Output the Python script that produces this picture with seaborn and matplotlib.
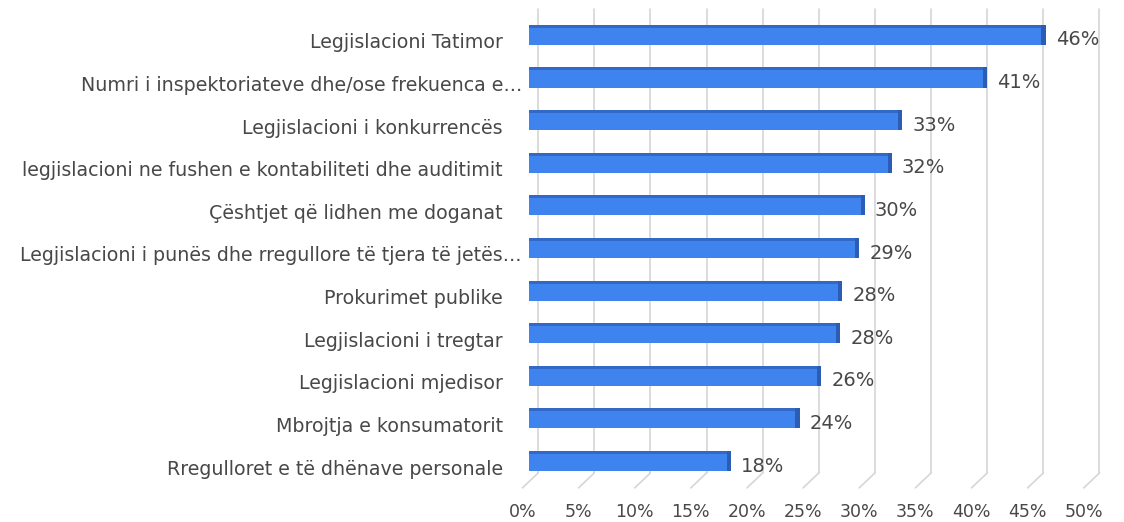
import matplotlib
matplotlib.use("Agg")
import matplotlib.pyplot as plt
import matplotlib.transforms as mtransforms
import seaborn as sns
import pandas as pd
import numpy as np

categories = [
    "Legjislacioni Tatimor",
    "Numri i inspektoriateve dhe/ose frekuenca e…",
    "Legjislacioni i konkurrencës",
    "legjislacioni ne fushen e kontabiliteti dhe auditimit",
    "Çështjet që lidhen me doganat",
    "Legjislacioni i punës dhe rregullore të tjera të jetës…",
    "Prokurimet publike",
    "Legjislacioni i tregtar",
    "Legjislacioni mjedisor",
    "Mbrojtja e konsumatorit",
    "Rregulloret e të dhënave personale",
]
values = [46.0, 40.8, 33.2, 32.3, 29.9, 29.4, 27.9, 27.7, 26.0, 24.1, 18.0]
xticks = [0, 5, 10, 15, 20, 25, 30, 35, 40, 45, 50]

sns.set_theme(style="white")
plt.rcParams['font.family'] = ['DejaVu Sans']
plt.rcParams['patch.edgecolor'] = 'none'

df = pd.DataFrame({"cat": categories, "val": values})

fig = plt.figure(figsize=(11.24, 5.22), dpi=100)
ax = fig.add_axes([0.4648, 0.076, 0.5104, 0.898])

face = "#3f83ef"
dark = "#2b5db4"
BW = 0.47

sns.barplot(data=df, y="cat", x="val", orient="h", color=face, saturation=1,
            width=BW, ax=ax, zorder=3, edgecolor="none", linewidth=0)
ypos = np.arange(len(values))
vals = np.array(values)
# 3D top strip and right side
ax.barh(ypos - BW / 2 + 0.035, vals, height=0.07, color="#3468c6",
        edgecolor="none", linewidth=0, zorder=4)
ax.barh(ypos, [0.38] * len(values), left=vals - 0.38, height=BW, color=dark,
        edgecolor="none", linewidth=0, zorder=5)

n = len(values)
ax.set_xlim(-0.5, 50.5)
ax.set_ylim(n - 0.5, -0.5)
for s in ax.spines.values():
    s.set_visible(False)

gc = "#d6d6d6"
for x in xticks:
    ax.plot([x + 0.8, x + 0.8], [-0.6, n - 0.72], color=gc, lw=1.2, zorder=1, clip_on=False)
    ax.plot([x + 0.8, x - 0.6], [n - 0.72, n - 0.37], color=gc, lw=1.2, zorder=1, clip_on=False)

ax.set_xticks([x - 0.6 for x in xticks])
ax.set_xticklabels([f"{t}%" for t in xticks])
ax.set_xlabel("")
ax.set_ylabel("")

for i, v in enumerate(values):
    ax.text(v + 0.9, i + 0.12, f"{v:.0f}%", va="center", ha="left", fontsize=14, color="#484848")

ax.tick_params(axis="y", length=0, pad=14, labelsize=13.7, labelcolor="#484848")
ax.tick_params(axis="x", length=0, pad=15, labelsize=12.5, labelcolor="#484848")

down = mtransforms.ScaledTranslation(0, -6 / 100, fig.dpi_scale_trans)
right_down = mtransforms.ScaledTranslation(19 / 100, -6 / 100, fig.dpi_scale_trans)
for lab in ax.get_yticklabels():
    if lab.get_text().endswith("…"):
        lab.set_transform(lab.get_transform() + right_down)
    else:
        lab.set_transform(lab.get_transform() + down)

fig.savefig("out.png", dpi=100)
